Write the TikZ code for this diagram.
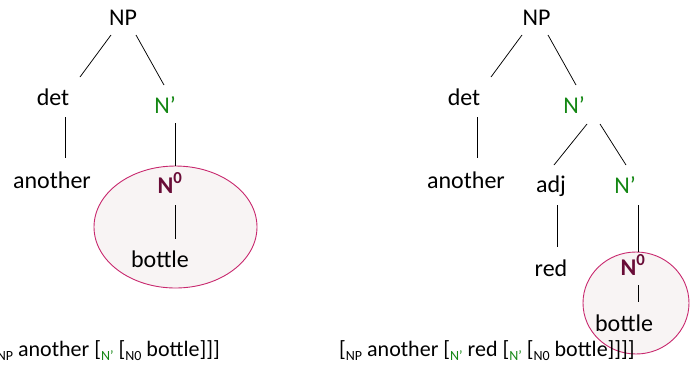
\documentclass[tikz,border=0pt]{standalone}
\usepackage{fontspec}
\setmainfont{Carlito}
\usetikzlibrary{shapes.geometric}
\definecolor{ngreen}{RGB}{20,135,20}
\definecolor{nzero}{RGB}{105,12,55}
\definecolor{ering}{RGB}{200,40,110}
\definecolor{efill}{RGB}{248,244,244}
\newcommand{\mysub}[1]{\raisebox{-0.45ex}{\fontsize{14}{14}\selectfont #1}}
\newcommand{\nzero}{\textcolor{nzero}{\bfseries N\textsuperscript{0}}}
\newcommand{\nbar}{\textcolor{ngreen}{N’}}
\begin{document}
\begin{tikzpicture}[x=1pt,y=-1pt,
  lbl/.style={font=\fontsize{24}{28}\selectfont, inner sep=0pt, anchor=base},
  brk/.style={font=\fontsize{22}{24}\selectfont, inner sep=0pt},
  edge/.style={line width=0.75pt},
  ell/.style={ellipse, draw=ering, fill=efill, line width=0.9pt, inner sep=0pt}]
\useasboundingbox (0,0) rectangle (690,376);
% ellipses
\node[ell, minimum width=163pt, minimum height=122pt] (e1) at (175.5,227) {};
\node[ell, minimum width=106pt, minimum height=102pt] (e2) at (636,303) {};
% left tree
\node[lbl] (NPa) at (123,25) {NP};
\node[lbl] (deta) at (53,105) {det};
\node[lbl] (nba) at (165,113) {\nbar};
\node[lbl] (anoa) at (52,188) {another};
\node[lbl] (nza) at (170,193) {\nzero};
\node[lbl] (bota) at (160,267) {bottle};
\coordinate (a1) at (111,35); \coordinate (a2) at (80,77);
\coordinate (a3) at (136,35); \coordinate (a4) at (164,85);
\coordinate (a5) at (65,117); \coordinate (a6) at (65,158);
\coordinate (a7) at (175,123);
\coordinate (a9) at (175,205); \coordinate (a10) at (175,239);
\draw[edge] (a1) -- (a2);
\draw[edge] (a3) -- (a4);
\draw[edge] (a5) -- (a6);
\draw[edge] (a7) -- (a7 |- e1.north);
\draw[edge] (a9) -- (a10);
% right tree
\node[lbl] (NPb) at (536.5,25) {NP};
\node[lbl] (detb) at (464,105) {det};
\node[lbl] (nbb) at (574,113) {\nbar};
\node[lbl] (anob) at (466,188) {another};
\node[lbl] (adj) at (551,192) {adj};
\node[lbl] (nbc) at (625,193) {\nbar};
\node[lbl] (red) at (551,276) {red};
\node[lbl] (nzb) at (633,275) {\nzero};
\node[lbl] (botb) at (624,331) {bottle};
\coordinate (b1) at (522,35); \coordinate (b2) at (491,77);
\coordinate (b3) at (548,35); \coordinate (b4) at (576,85);
\coordinate (b5) at (477,117); \coordinate (b6) at (477,158);
\coordinate (b7) at (587,124); \coordinate (b8) at (554,165);
\coordinate (b9) at (600,124); \coordinate (b10) at (626,165);
\coordinate (b11) at (557,205); \coordinate (b12) at (557,247);
\coordinate (b13) at (638,205);
\coordinate (b15) at (638,285); \coordinate (b16) at (638,302);
\draw[edge] (b1) -- (b2);
\draw[edge] (b3) -- (b4);
\draw[edge] (b5) -- (b6);
\draw[edge] (b7) -- (b8);
\draw[edge] (b9) -- (b10);
\draw[edge] (b11) -- (b12);
\draw[edge] (b13) -- (b13 |- e2.north);
\draw[edge] (b15) -- (b16);
% bracket notations
\node[brk, anchor=base east] (bra) at (220,356) {[\mysub{NP} another [\textcolor{ngreen}{\mysub{N’}} [\mysub{N0} bottle]]]};
\node[brk, anchor=base west] (brb) at (339,356) {[\mysub{NP} another [\textcolor{ngreen}{\mysub{N’}} red [\textcolor{ngreen}{\mysub{N’}} [\mysub{N0} bottle]]]]};
\end{tikzpicture}
\end{document}
